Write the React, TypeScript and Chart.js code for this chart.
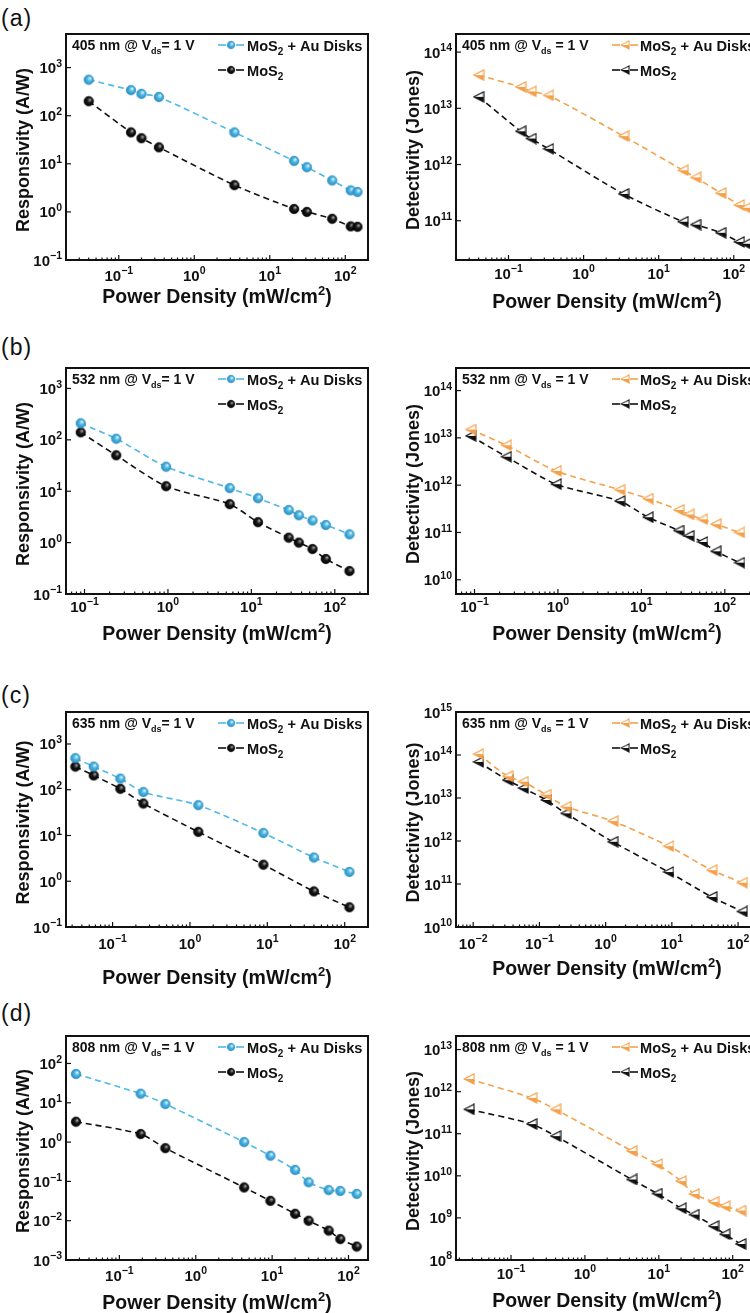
import React, { useEffect, useRef } from 'react';
import { Chart, registerables } from 'chart.js';
Chart.register(...registerables);

const FONT = 'Arial, "Liberation Sans", Helvetica, sans-serif';

// ---------------- data (power density in mW/cm²) ----------------
const powerA = [0.04, 0.145, 0.2, 0.34, 3.4, 21, 31, 67, 118, 145];
const respAuA = [560, 340, 285, 245, 45, 11.5, 8.5, 4.5, 2.8, 2.6];
const respMoA = [200, 45, 34, 22, 3.6, 1.15, 1.0, 0.72, 0.5, 0.49];
const detAuA = [3.9e13, 2.4e13, 2.0e13, 1.7e13, 3.2e12, 7.9e11, 5.9e11, 3.1e11, 1.9e11, 1.7e11];
const detMoA = [1.6e13, 3.9e12, 2.9e12, 1.9e12, 3.0e11, 9.6e10, 8.5e10, 6.1e10, 4.2e10, 3.9e10];

const powerB = [0.09, 0.24, 0.95, 5.5, 12, 28, 37, 54, 78, 150];
const respAuB = [210, 105, 30, 11.5, 7.3, 4.3, 3.4, 2.7, 2.2, 1.45];
const respMoB = [140, 50, 12.5, 5.6, 2.5, 1.25, 1.0, 0.75, 0.48, 0.28];
const detAuB = [1.5e13, 7e12, 2e12, 8e11, 5.2e11, 3e11, 2.4e11, 1.9e11, 1.5e11, 1.0e11];
const detMoB = [1.1e13, 4e12, 1.05e12, 4.6e11, 2.1e11, 1.1e11, 8.5e10, 6.3e10, 4e10, 2.3e10];

const powerCResp = [0.033, 0.057, 0.126, 0.25, 1.28, 8.9, 40, 115];
const respAuC = [490, 320, 175, 89, 46, 11.3, 3.3, 1.6];
const respMoC = [320, 205, 105, 50, 12, 2.3, 0.6, 0.27];
const powerCDet = [0.012, 0.033, 0.057, 0.126, 0.25, 1.28, 8.9, 40, 115];
const detAuC = [1.05e14, 3.2e13, 2.4e13, 1.2e13, 6.3e12, 2.9e12, 7.6e11, 2.1e11, 1.07e11];
const detMoC = [6.9e13, 2.6e13, 1.7e13, 9e12, 4.4e12, 9.6e11, 1.9e11, 5e10, 2.3e10];

const powerD = [0.027, 0.19, 0.4, 4.3, 9.5, 20, 30, 55, 78, 128];
const respAuD = [54, 17, 9.3, 1.0, 0.45, 0.196, 0.095, 0.06, 0.057, 0.048];
const respMoD = [3.3, 1.6, 0.7, 0.07, 0.032, 0.015, 0.01, 0.0056, 0.0034, 0.0022];
const detAuD = [2.0e12, 7.1e11, 3.8e11, 3.9e10, 1.9e10, 7.5e9, 3.7e9, 2.4e9, 1.9e9, 1.5e9];
const detMoD = [3.8e11, 1.7e11, 8.8e10, 8.2e9, 3.8e9, 1.7e9, 1.2e9, 6.4e8, 4.1e8, 2.4e8];

const wavelengths = ['405', '532', '635', '808'];
const panelLetters = ['(a)', '(b)', '(c)', '(d)'];
const seriesNames = ['MoS₂ + Au Disks', 'MoS₂'];

// ---------------- styling ----------------
const BLUE = '#4db9e6';
const ORANGE = '#f5a04b';
const BLACK = '#111111';

type Panel = {
  kind: 'resp' | 'det';
  nm: string;
  xs: number[];
  au: number[];
  mo: number[];
  xr: [number, number];
  yr: [number, number];
  box: [number, number, number, number];
  tickOff: number;
  titleOff: number;
};

const PANELS: Panel[] = [
  { kind: 'resp', nm: wavelengths[0], xs: powerA, au: respAuA, mo: respMoA, xr: [0.02, 200], yr: [0.1, 5000], box: [66, 34, 368, 260], tickOff: 15, titleOff: 36 },
  { kind: 'det', nm: wavelengths[0], xs: powerA, au: detAuA, mo: detMoA, xr: [0.02, 210], yr: [2e10, 2.1e14], box: [456, 34, 758, 260], tickOff: 13, titleOff: 41 },
  { kind: 'resp', nm: wavelengths[1], xs: powerB, au: respAuB, mo: respMoB, xr: [0.06, 250], yr: [0.1, 2500], box: [66, 368, 368, 594], tickOff: 12, titleOff: 39 },
  { kind: 'det', nm: wavelengths[1], xs: powerB, au: detAuB, mo: detMoB, xr: [0.06, 250], yr: [5e9, 3e14], box: [456, 368, 758, 594], tickOff: 12, titleOff: 39 },
  { kind: 'resp', nm: wavelengths[2], xs: powerCResp, au: respAuC, mo: respMoC, xr: [0.025, 200], yr: [0.1, 5000], box: [66, 712, 368, 927], tickOff: 16, titleOff: 50 },
  { kind: 'det', nm: wavelengths[2], xs: powerCDet, au: detAuC, mo: detMoC, xr: [0.0055, 200], yr: [1e10, 1e15], box: [456, 712, 758, 927], tickOff: 16, titleOff: 41 },
  { kind: 'resp', nm: wavelengths[3], xs: powerD, au: respAuD, mo: respMoD, xr: [0.02, 180], yr: [0.001, 500], box: [66, 1036, 368, 1260], tickOff: 15, titleOff: 42 },
  { kind: 'det', nm: wavelengths[3], xs: powerD, au: detAuD, mo: detMoD, xr: [0.018, 220], yr: [1e8, 2.1e13], box: [456, 1036, 758, 1260], tickOff: 13, titleOff: 40 },
];

const LABEL_Y = [18, 347, 695, 1013];

// ---------------- marker images ----------------
function sphere(base: string, light: string, dark: string, d: number) {
  const s = Math.ceil(d) + 2;
  const c = document.createElement('canvas');
  c.width = s; c.height = s;
  const g = c.getContext('2d')!;
  const r = d / 2, cx = s / 2, cy = s / 2;
  const grad = g.createRadialGradient(cx + r * 0.3, cy - r * 0.35, r * 0.05, cx, cy, r);
  grad.addColorStop(0, light);
  grad.addColorStop(0.45, base);
  grad.addColorStop(1, dark);
  g.fillStyle = grad;
  g.beginPath(); g.arc(cx, cy, r, 0, Math.PI * 2); g.fill();
  g.lineWidth = 0.7; g.strokeStyle = dark; g.stroke();
  return c;
}

function halfTri(color: string, w: number, h: number) {
  const c = document.createElement('canvas');
  c.width = w + 2; c.height = h + 2;
  const g = c.getContext('2d')!;
  const x0 = 1, x1 = w + 1, yt = 1, yb = h + 1, ym = (yt + yb) / 2;
  g.fillStyle = '#ffffff';
  g.beginPath(); g.moveTo(x0, ym); g.lineTo(x1, yt); g.lineTo(x1, yb); g.closePath(); g.fill();
  g.fillStyle = color;
  g.beginPath(); g.moveTo(x0, ym); g.lineTo(x1, ym); g.lineTo(x1, yb); g.closePath(); g.fill();
  g.strokeStyle = color; g.lineWidth = 1.1;
  g.beginPath(); g.moveTo(x0, ym); g.lineTo(x1, yt); g.lineTo(x1, yb); g.closePath(); g.stroke();
  return c;
}

// ---------------- rich text ----------------
type Seg = [string, number]; // 0 normal, 1 sup, -1 sub
const fnt = (s: number) => `bold ${s}px ${FONT}`;

function richDraw(ctx: CanvasRenderingContext2D, segs: Seg[], x: number, yBase: number, size: number, align: 'left' | 'center' | 'right', small?: number) {
  const sm = small ?? Math.round(size * 0.68);
  const widths = segs.map(([t, k]) => { ctx.font = fnt(k ? sm : size); return ctx.measureText(t).width; });
  const total = widths.reduce((a, b) => a + b, 0);
  let cx = align === 'left' ? x : align === 'center' ? x - total / 2 : x - total;
  ctx.textAlign = 'left';
  ctx.textBaseline = 'alphabetic';
  segs.forEach(([t, k], i) => {
    ctx.font = fnt(k ? sm : size);
    const dy = k === 1 ? -size * 0.42 : k === -1 ? size * 0.28 : 0;
    ctx.fillText(t, cx, yBase + dy);
    cx += widths[i];
  });
  return total;
}

function expSegs(k: number): Seg[] {
  return [['10', 0], [k < 0 ? '−' + Math.abs(k) : String(k), 1]];
}

function splitSub(name: string): Seg[] {
  const i = name.indexOf('₂');
  if (i < 0) return [[name, 0]];
  return [[name.slice(0, i), 0], ['2', -1], [name.slice(i + 1), 0]];
}

// ---------------- decoration plugin ----------------
function decor(p: Panel, markers: { au: HTMLCanvasElement; mo: HTMLCanvasElement }) {
  return {
    id: 'decor',
    afterDraw(chart: any) {
      const ctx: CanvasRenderingContext2D = chart.ctx;
      const a = chart.chartArea;
      const xs = chart.scales.x, ys = chart.scales.y;
      ctx.save();
      ctx.fillStyle = BLACK;
      ctx.strokeStyle = BLACK;

      // x ticks
      const inRange = (v: number, r: [number, number]) => v >= r[0] * 0.9999 && v <= r[1] * 1.0001;
      ctx.lineWidth = 1.2;
      for (let k = Math.floor(Math.log10(p.xr[0])); k <= Math.ceil(Math.log10(p.xr[1])); k++) {
        for (let m = 1; m <= 9; m++) {
          const v = m * Math.pow(10, k);
          if (!inRange(v, p.xr)) continue;
          const px = xs.getPixelForValue(v);
          const len = m === 1 ? 5 : 2.5;
          ctx.beginPath(); ctx.moveTo(px, a.bottom); ctx.lineTo(px, a.bottom - len); ctx.stroke();
          if (m === 1) richDraw(ctx, expSegs(k), px, a.bottom + p.tickOff + 5.5, 15, 'center', 10.5);
        }
      }
      // y ticks
      for (let k = Math.floor(Math.log10(p.yr[0])); k <= Math.ceil(Math.log10(p.yr[1])); k++) {
        const v = Math.pow(10, k);
        if (!inRange(v, p.yr)) continue;
        const py = ys.getPixelForValue(v);
        ctx.beginPath(); ctx.moveTo(a.left, py); ctx.lineTo(a.left + 5, py); ctx.stroke();
        richDraw(ctx, expSegs(k), a.left - 4, py + 5.5, 15, 'right', 10.5);
      }

      // frame
      ctx.lineWidth = 2;
      ctx.strokeRect(a.left, a.top, a.right - a.left, a.bottom - a.top);

      // axis titles
      richDraw(ctx, [['Power Density (mW/cm', 0], ['2', 1], [')', 0]], (a.left + a.right) / 2, a.bottom + p.titleOff + 7, 19.5, 'center', 13);
      ctx.save();
      ctx.translate(a.left - 44, (a.top + a.bottom) / 2 + 3);
      ctx.rotate(-Math.PI / 2);
      richDraw(ctx, [[p.kind === 'resp' ? 'Responsivity (A/W)' : 'Detectivity (Jones)', 0]], 0, 6.5, 18, 'center');
      ctx.restore();

      // annotation
      const eq = p.kind === 'resp' ? '= 1 V' : ' = 1 V';
      richDraw(ctx, [[`${p.nm} nm @ V`, 0], ['ds', -1], [eq, 0]], a.left + 6, a.top + 16, 14, 'left', 9);

      // legend
      const symX = a.left + (p.kind === 'resp' ? 152 : 156);
      const txtX = a.left + (p.kind === 'resp' ? 181 : 184);
      const rows = [
        { y: a.top + 11, color: p.kind === 'resp' ? BLUE : ORANGE, img: markers.au, name: seriesNames[0] },
        { y: a.top + 36, color: BLACK, img: markers.mo, name: seriesNames[1] },
      ];
      rows.forEach((r) => {
        ctx.strokeStyle = r.color;
        ctx.lineWidth = 1.6;
        ctx.beginPath(); ctx.moveTo(symX, r.y); ctx.lineTo(symX + 8, r.y); ctx.stroke();
        ctx.beginPath(); ctx.moveTo(symX + 18, r.y); ctx.lineTo(symX + 26, r.y); ctx.stroke();
        const w = r.img.width * 0.8, h = r.img.height * 0.8;
        ctx.drawImage(r.img, symX + 13 - w / 2, r.y - h / 2, w, h);
        ctx.fillStyle = BLACK;
        richDraw(ctx, splitSub(r.name), txtX, r.y + 5.5, 14.6, 'left', 10);
      });
      ctx.restore();
    },
  };
}

function PanelChart({ p }: { p: Panel }) {
  const ref = useRef<HTMLCanvasElement | null>(null);
  const left = p.box[0] < 400 ? 0 : 375;
  const width = left === 0 ? 375 : 400;
  const top = p.box[1] - 30;
  const height = p.box[3] + 70 - top;

  useEffect(() => {
    const canvas = ref.current!;
    const isResp = p.kind === 'resp';
    const auImg = isResp ? sphere(BLUE, '#e4f6fd', '#2b8cbf', 9.5) : halfTri(ORANGE, 10, 10);
    const moImg = isResp ? sphere('#1a1a1a', '#a8a8a8', '#000000', 9.5) : halfTri(BLACK, 10, 10);
    const mk = (xs: number[], ys: number[]) => ys.map((y, i) => ({ x: xs[i], y }));
    const chart = new Chart(canvas, {
      type: 'line',
      data: {
        datasets: [
          {
            label: seriesNames[0],
            data: mk(p.xs, p.au),
            borderColor: isResp ? BLUE : ORANGE,
            borderWidth: 1.6,
            borderDash: [6, 4],
            pointStyle: auImg as any,
            pointRadius: 5,
            tension: 0.25,
            fill: false,
          },
          {
            label: seriesNames[1],
            data: mk(p.xs, p.mo),
            borderColor: BLACK,
            borderWidth: 1.6,
            borderDash: [6, 4],
            pointStyle: moImg as any,
            pointRadius: 5,
            tension: 0.25,
            fill: false,
          },
        ],
      },
      options: {
        responsive: false,
        maintainAspectRatio: false,
        animation: false,
        events: [],
        layout: {
          padding: {
            left: p.box[0] - left,
            top: p.box[1] - top,
            right: left + width - p.box[2],
            bottom: top + height - p.box[3],
          },
        },
        plugins: { legend: { display: false }, tooltip: { enabled: false }, title: { display: false } },
        scales: {
          x: { type: 'logarithmic', min: p.xr[0], max: p.xr[1], display: false },
          y: { type: 'logarithmic', min: p.yr[0], max: p.yr[1], display: false },
        },
      },
      plugins: [decor(p, { au: auImg, mo: moImg })],
    } as any);
    return () => chart.destroy();
  }, [p]);

  return (
    <canvas
      ref={ref}
      width={width}
      height={height}
      style={{ position: 'absolute', left, top, width, height, display: 'block' }}
    />
  );
}

export default function App() {
  return (
    <div style={{ position: 'fixed', left: 0, top: 0, width: 750, height: 1313, overflow: 'hidden', background: '#ffffff' }}>
      {panelLetters.map((t, i) => (
        <div
          key={t}
          style={{ position: 'absolute', left: 1, top: LABEL_Y[i] - 14, fontFamily: FONT, fontSize: 23, lineHeight: '28px', letterSpacing: 1, color: '#111' }}
        >
          {t}
        </div>
      ))}
      {PANELS.map((p, i) => (
        <PanelChart key={i} p={p} />
      ))}
    </div>
  );
}
